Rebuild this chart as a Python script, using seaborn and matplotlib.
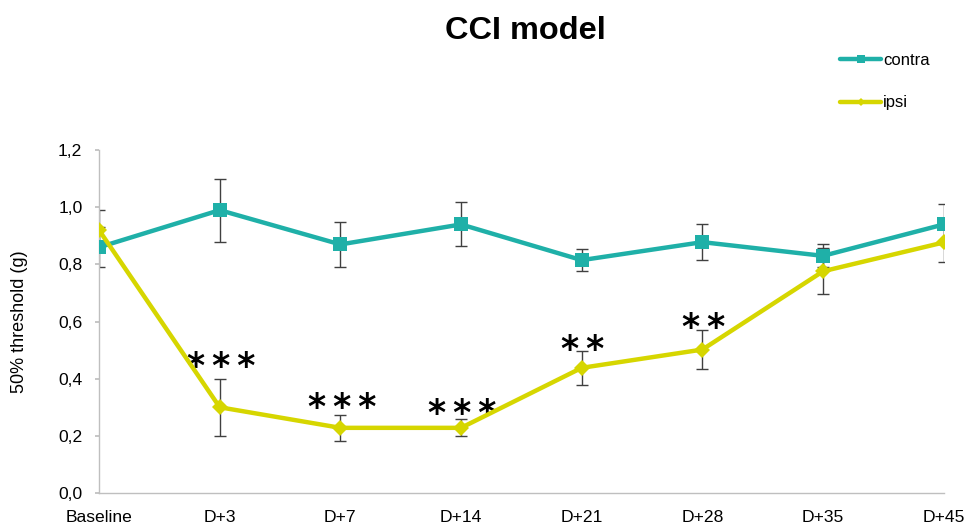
import matplotlib
matplotlib.use("Agg")
import matplotlib.pyplot as plt
import seaborn as sns
import pandas as pd
import numpy as np
from matplotlib.lines import Line2D

categories = ["Baseline", "D+3", "D+7", "D+14", "D+21", "D+28", "D+35", "D+45"]
contra_mean = [0.86, 0.99, 0.87, 0.94, 0.815, 0.878, 0.83, 0.94]
contra_err = [0.07, 0.11, 0.08, 0.077, 0.038, 0.063, 0.04, 0.07]
ipsi_mean = [0.92, 0.30, 0.228, 0.228, 0.438, 0.502, 0.776, 0.877]
ipsi_err = [0.07, 0.10, 0.045, 0.03, 0.06, 0.068, 0.08, 0.067]
stars = ["", "***", "***", "***", "**", "**", "", ""]
# vertical offset (points) of the star labels above the error bar tops
star_offset = [0, 1.5, -2.5, -3.5, -6.5, -6, 0, 0]
yticks = [0.0, 0.2, 0.4, 0.6, 0.8, 1.0, 1.2]
ytick_labels = ["0,0", "0,2", "0,4", "0,6", "0,8", "1,0", "1,2"]

teal = "#1FB0A8"
yellow = "#D6D600"

sns.set_theme(style="white")
plt.rcParams["font.family"] = ["Liberation Sans", "DejaVu Sans"]
plt.rcParams["text.color"] = "black"
plt.rcParams["xtick.color"] = "black"
plt.rcParams["ytick.color"] = "black"
plt.rcParams["axes.labelcolor"] = "black"

n = len(categories)
df = pd.DataFrame({
    "pos": list(range(n)) * 2,
    "value": contra_mean + ipsi_mean,
    "series": ["contra"] * n + ["ipsi"] * n,
})

fig = plt.figure(figsize=(9.72, 5.25), dpi=100)
ax = fig.add_axes([0.1019, 0.061, 0.869, 0.653])

x = np.arange(n)
ax.errorbar(x, contra_mean, yerr=contra_err, fmt="none", ecolor="#404040",
            elinewidth=1, capsize=4.5, capthick=1, zorder=1)
ax.errorbar(x, ipsi_mean, yerr=ipsi_err, fmt="none", ecolor="#404040",
            elinewidth=1, capsize=4.5, capthick=1, zorder=1)

sns.lineplot(data=df[df.series == "contra"], x="pos", y="value", ax=ax,
             color=teal, linewidth=3.2, marker="s", markersize=10,
             markeredgewidth=0, sort=False, zorder=3, legend=False)
sns.lineplot(data=df[df.series == "ipsi"], x="pos", y="value", ax=ax,
             color=yellow, linewidth=3.2, marker="D", markersize=8,
             markeredgewidth=0, sort=False, zorder=4, legend=False)

for i, s in enumerate(stars):
    if s:
        ax.annotate("\u2009".join(s), xy=(i, ipsi_mean[i] + ipsi_err[i]),
                    xytext=(1, star_offset[i]), textcoords="offset points",
                    ha="center", va="baseline", fontsize=25, color="black",
                    family="DejaVu Sans", fontweight="bold")

ax.set_xlim(0, n - 1)
ax.set_ylim(0, 1.2)
ax.set_xticks(x)
ax.set_xticklabels(categories, fontsize=12.6)
ax.set_yticks(yticks)
ax.set_yticklabels(ytick_labels, fontsize=12.6)
ax.set_xlabel("")
ax.set_ylabel("50% threshold (g)", fontsize=13)
ax.yaxis.set_label_coords(-0.084, 0.5)

for side in ["top", "right"]:
    ax.spines[side].set_visible(False)
for side in ["left", "bottom"]:
    ax.spines[side].set_color("#BFBFBF")
    ax.spines[side].set_linewidth(1)
ax.tick_params(axis="y", which="major", left=True, length=3, color="#BFBFBF", pad=9)
ax.tick_params(axis="x", which="major", bottom=False, pad=6)
ax.grid(False)

fig.text(0.541, 0.941, "CCI model", ha="center", va="center", fontsize=23.4,
         fontweight="bold", color="black")

handles = [
    Line2D([], [], color=teal, linewidth=3.2, marker="s", markersize=6, markeredgewidth=0),
    Line2D([], [], color=yellow, linewidth=3.2, marker="D", markersize=4, markeredgewidth=0),
]
fig.legend(handles, ["contra", "ipsi"], loc="upper left",
           bbox_to_anchor=(0.857, 0.912), frameon=False, fontsize=12,
           handlelength=2.5, handletextpad=0.1, labelspacing=1.65,
           borderaxespad=0)

fig.savefig("out.png", dpi=100)
